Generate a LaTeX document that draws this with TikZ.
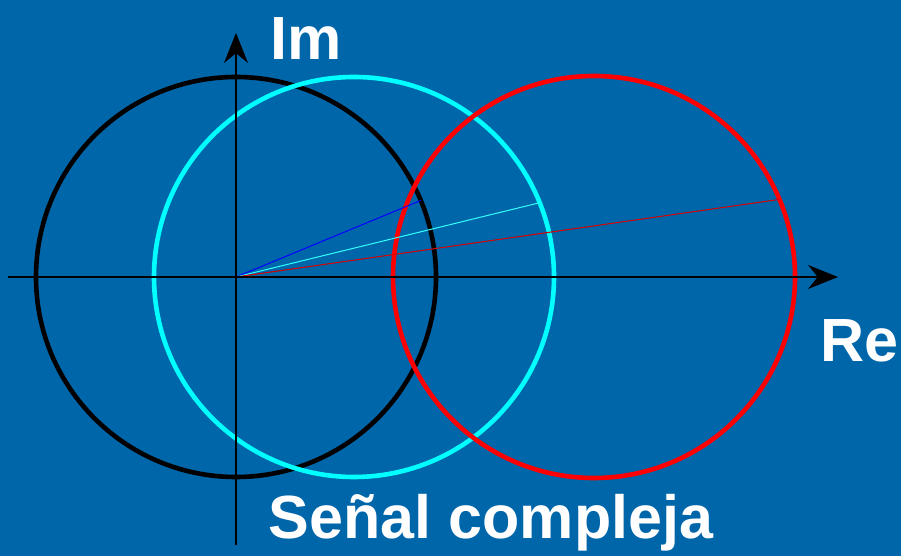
\documentclass[tikz,border=0pt]{standalone}
\usepackage{fontspec}
\setmainfont{Liberation Sans}
\usepackage{xcolor}
\usetikzlibrary{positioning, arrows.meta, calc}
\definecolor{bgblue}{RGB}{0,102,170}
\definecolor{sigcyan}{RGB}{0,255,255}
\definecolor{vecblue}{RGB}{0,0,255}

\begin{document}
\begin{tikzpicture}[
  x=1pt, y=1pt,
  every node/.style={font=\bfseries\fontsize{61}{61}\selectfont, text=white, inner sep=0pt},
  axis/.style={line width=1.3pt, black, -{Stealth[length=30pt, width=24pt]}},
  ring/.style={line width=4.6pt, draw=#1},
  vec/.style={line width=1pt, draw=#1},
]
% background
\fill[bgblue] (0,0) rectangle (901,556);
\useasboundingbox (0,0) rectangle (901,556);

% centres
\coordinate (O)  at (236,279);
\coordinate (cC) at (354,279);
\coordinate (cR) at (594,279);

% circles
\draw[ring=black]    (O)  circle[radius=200];
\draw[ring=sigcyan]  (cC) circle[radius=200];
\draw[ring=red]      (cR) circle[radius=201];

% phasors
\path (O)  ++(22.5:200) coordinate (pK);
\path (cC) ++(21.8:200) coordinate (pC);
\path (cR) ++(22.7:201) coordinate (pR);
\draw[vec=vecblue] (O) -- (pK);
\draw[vec=sigcyan!80!white] (O) -- (pC);
\draw[vec=red!85!black] (O) -- (pR);

% axes
\coordinate (xa) at (8,279);
\coordinate (xb) at (838,279);
\coordinate (ya) at (236,11);
\coordinate (yb) at (236,523);
\draw[axis] (xa) -- (xb);
\draw[axis] (ya) -- (yb);

% labels
\node[anchor=west] (im) at (270,517) {Im};
\node[anchor=west] (re) at (820,215) {Re};
\node (sig) at (491,33) {Señal compleja};
\end{tikzpicture}
\end{document}
